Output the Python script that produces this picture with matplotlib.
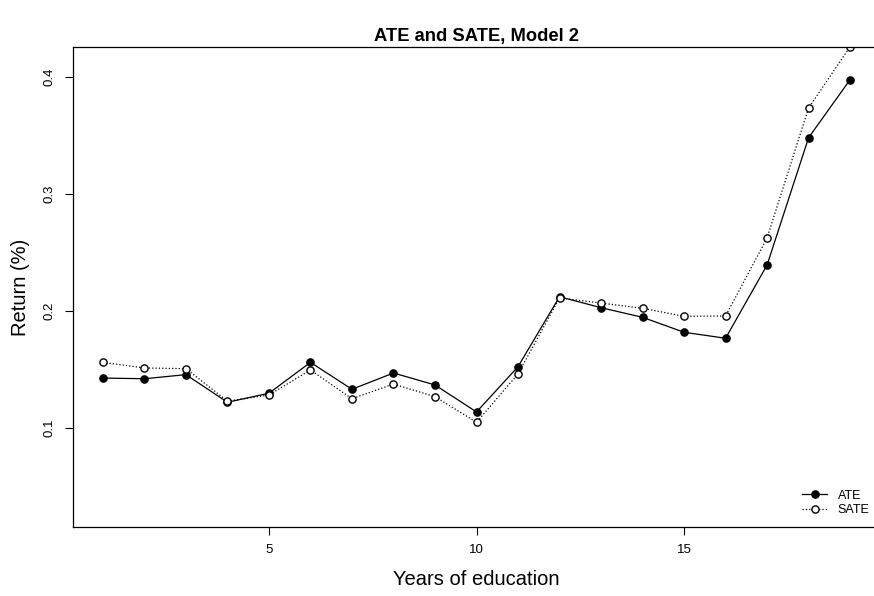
import matplotlib
matplotlib.use("Agg")
import matplotlib.pyplot as plt

plt.rcParams["font.family"] = ["Liberation Sans", "DejaVu Sans"]

years = list(range(1, 20))
ate = [0.1427, 0.1421, 0.1456, 0.1220, 0.1297, 0.1561, 0.1331, 0.1470, 0.1368, 0.1137,
       0.1524, 0.2122, 0.2028, 0.1946, 0.1818, 0.1767, 0.2393, 0.3481, 0.3977]
sate = [0.1561, 0.1513, 0.1507, 0.1230, 0.1282, 0.1496, 0.1250, 0.1376, 0.1268, 0.1049,
        0.1462, 0.2111, 0.2068, 0.2023, 0.1955, 0.1957, 0.2624, 0.3735, 0.4259]

W, H = 874, 596
fig = plt.figure(figsize=(W / 100, H / 100), dpi=100)
# axes box in pixels: left 73, right ~880 (just off the canvas), top 47, bottom 527
ax = fig.add_axes([73 / W, 1 - 527 / H, (880 - 73) / W, (527 - 47) / H])

ax.plot(years, ate, "-o", color="black", lw=0.9, ms=5.2, mfc="black", label="ATE")
ax.plot(years, sate, ":o", color="black", lw=0.9, ms=5.2, mfc="white", label="SATE")

ax.set_xlim(0.28, 19.72)
ax.set_ylim(0.0154, 0.4256)
ax.set_xticks([5, 10, 15])
ax.set_yticks([0.1, 0.2, 0.3, 0.4])
ax.set_yticklabels(["0.1", "0.2", "0.3", "0.4"], rotation=90, va="center")
ax.tick_params(direction="out", length=5.5, width=0.8, labelsize=9.5)
ax.tick_params(axis="x", pad=7)
ax.tick_params(axis="y", pad=7)
for s in ax.spines.values():
    s.set_linewidth(0.9)

ax.set_xlabel("Years of education", fontsize=14.5, labelpad=10)
ax.set_ylabel("Return (%)", fontsize=14.5, labelpad=10)
fig.text(476 / W, 1 - 36 / H, "ATE and SATE, Model 2", ha="center", va="center",
         fontsize=13.2, fontweight="bold")

ax.legend(loc="center left", bbox_to_anchor=(796 / W, 1 - 503 / H),
          bbox_transform=fig.transFigure, frameon=False, fontsize=9,
          handlelength=2.0, handletextpad=0.85, labelspacing=0.2, borderpad=0)

fig.savefig("out.png", dpi=100)
